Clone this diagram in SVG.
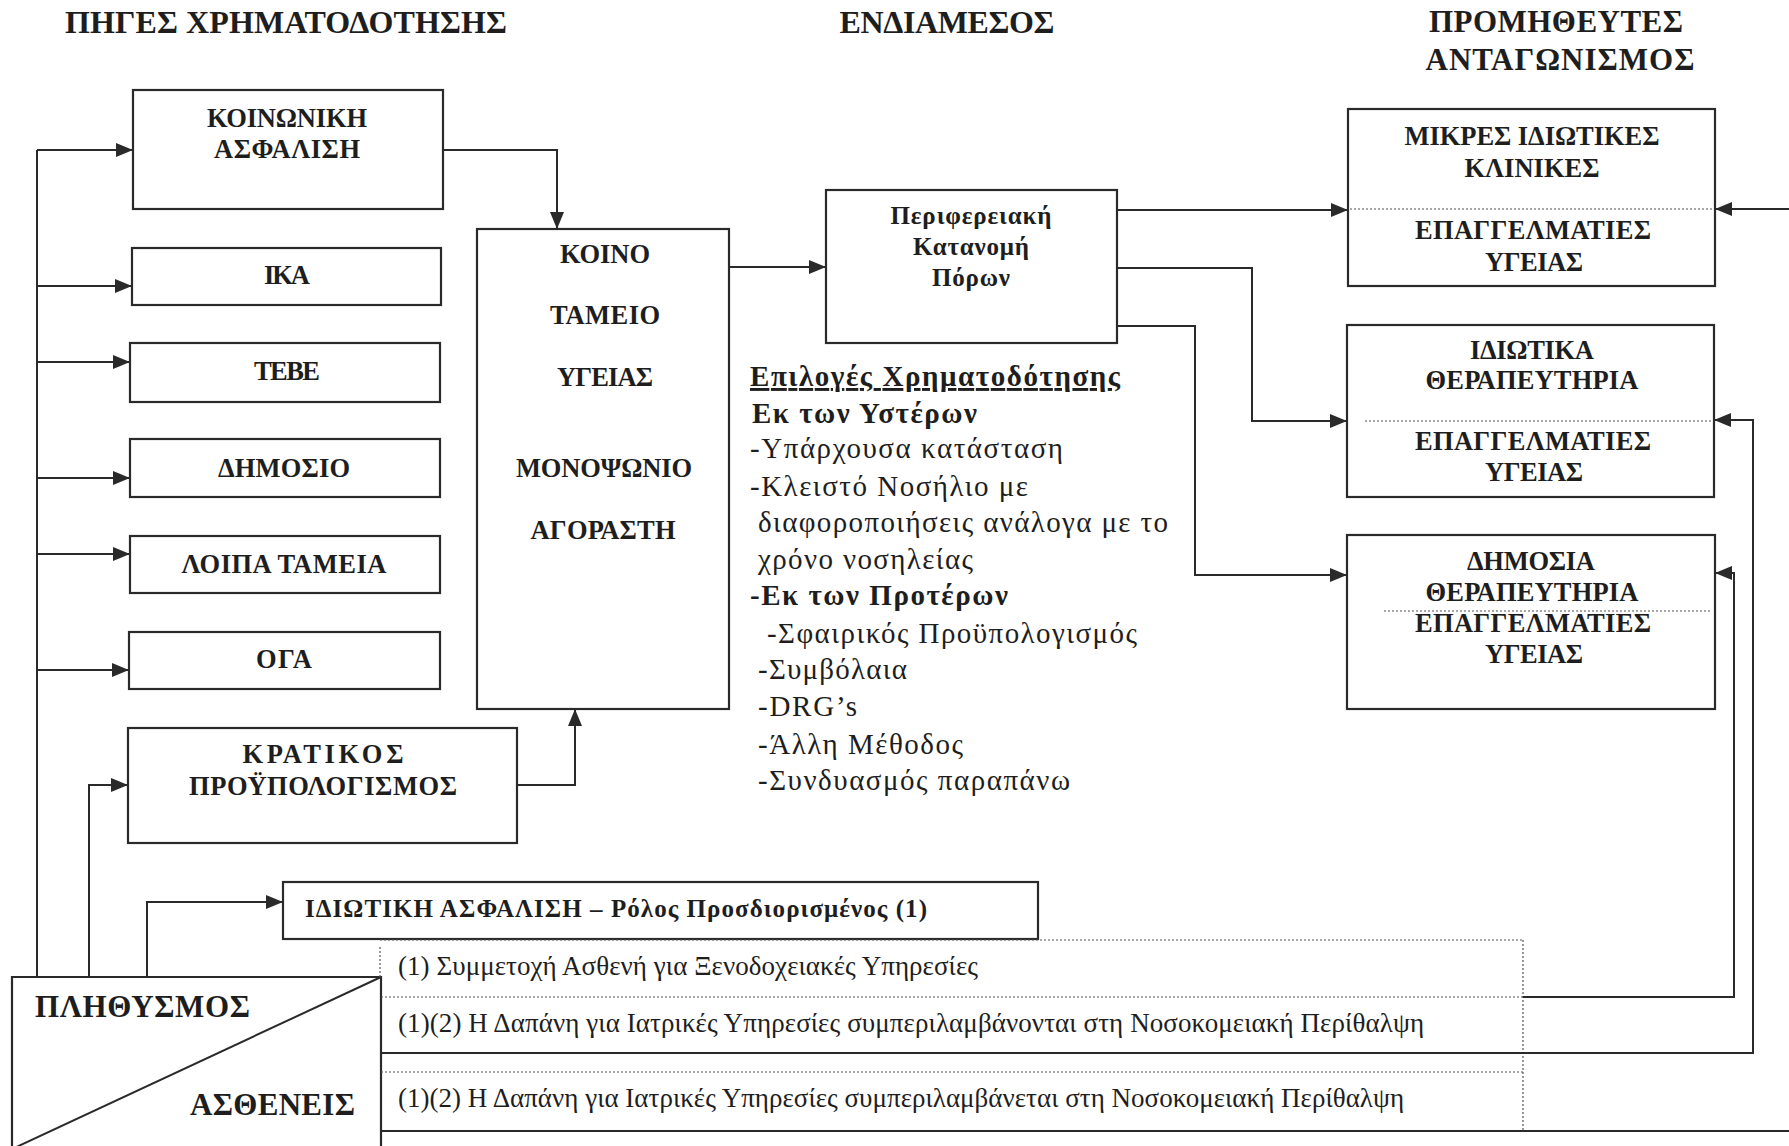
<svg xmlns="http://www.w3.org/2000/svg" width="1789" height="1146" viewBox="0 0 1789 1146">
<defs>
<marker id="arr" markerUnits="userSpaceOnUse" markerWidth="18" markerHeight="14" refX="17" refY="7" orient="auto">
<path d="M0,0 L17,7 L0,14 z" fill="#2a2a2a"/>
</marker>
<style>
.box{fill:none;stroke:#2a2a2a;stroke-width:2.2}
.ln{fill:none;stroke:#2a2a2a;stroke-width:2}
.dot{fill:none;stroke:#555;stroke-width:1.2;stroke-dasharray:2 2}
.t{font-family:"Liberation Serif","DejaVu Serif",serif;fill:#1e1e1e}
.b{font-weight:bold}
.bx{font-size:26.5px;font-weight:bold;text-anchor:middle}
.ttl{font-size:32px;font-weight:bold;text-anchor:middle}
.opt{font-size:29px}
.row{font-size:27px}
</style>
</defs>
<rect width="1789" height="1146" fill="#ffffff"/>

<!-- titles -->
<g id="titles">
<text class="t ttl" x="286" y="33" textLength="442">ΠΗΓΕΣ ΧΡΗΜΑΤΟΔΟΤΗΣΗΣ</text>
<text class="t ttl" x="947" y="33" textLength="215">ΕΝΔΙΑΜΕΣΟΣ</text>
<text class="t ttl" x="1556" y="32" style="font-size:31px" textLength="254">ΠΡΟΜΗΘΕΥΤΕΣ</text>
<text class="t ttl" x="1560" y="70" style="font-size:31px" textLength="269">ΑΝΤΑΓΩΝΙΣΜΟΣ</text>
</g>

<!-- source boxes -->
<g id="koinoniki">
<rect class="box" x="133" y="90" width="310" height="119"/>
<text class="t bx" x="287" y="127" textLength="160">ΚΟΙΝΩΝΙΚΗ</text>
<text class="t bx" x="287" y="158" textLength="146">ΑΣΦΑΛΙΣΗ</text>
</g>
<g id="ika">
<rect class="box" x="132" y="248" width="309" height="57"/>
<text class="t bx" x="287" y="284" textLength="46">ΙΚΑ</text>
</g>
<g id="tebe">
<rect class="box" x="130" y="343" width="310" height="59"/>
<text class="t bx" x="287" y="380" textLength="66">ΤΕΒΕ</text>
</g>
<g id="dimosio">
<rect class="box" x="130" y="439" width="310" height="58"/>
<text class="t bx" x="284" y="477" textLength="132">ΔΗΜΟΣΙΟ</text>
</g>
<g id="loipa">
<rect class="box" x="130" y="536" width="310" height="57"/>
<text class="t bx" x="284" y="573" textLength="205">ΛΟΙΠΑ ΤΑΜΕΙΑ</text>
</g>
<g id="oga">
<rect class="box" x="129" y="632" width="311" height="57"/>
<text class="t bx" x="284" y="668" textLength="56">ΟΓΑ</text>
</g>
<g id="kratikos">
<rect class="box" x="128" y="728" width="389" height="115"/>
<text class="t bx" x="323" y="763" textLength="161">ΚΡΑΤΙΚΟΣ</text>
<text class="t bx" x="323" y="795" textLength="268">ΠΡΟΫΠΟΛΟΓΙΣΜΟΣ</text>
</g>

<!-- common fund -->
<g id="koino-tameio">
<rect class="box" x="477" y="229" width="252" height="480"/>
<text class="t bx" x="605" y="263" textLength="90">ΚΟΙΝΟ</text>
<text class="t bx" x="605" y="324" textLength="110">ΤΑΜΕΙΟ</text>
<text class="t bx" x="605" y="386" textLength="96">ΥΓΕΙΑΣ</text>
<text class="t bx" x="604" y="477" textLength="176">ΜΟΝΟΨΩΝΙΟ</text>
<text class="t bx" x="603" y="539" textLength="145">ΑΓΟΡΑΣΤΗ</text>
</g>

<!-- regional allocation -->
<g id="perifereiaki">
<rect class="box" x="826" y="190" width="291" height="153"/>
<text class="t bx" x="971" y="224" style="font-size:25px" textLength="161">Περιφερειακή</text>
<text class="t bx" x="971" y="255" style="font-size:25px" textLength="116">Κατανομή</text>
<text class="t bx" x="971" y="286" style="font-size:25px" textLength="78">Πόρων</text>
</g>

<!-- funding options text -->
<g id="epiloges">
<text class="t opt b" x="750" y="386" textLength="370" text-decoration="underline">Επιλογές Χρηματοδότησης</text>
<text class="t opt b" x="752" y="423" textLength="225">Εκ των Υστέρων</text>
<text class="t opt" x="750" y="458" textLength="313">-Υπάρχουσα κατάσταση</text>
<text class="t opt" x="750" y="496" textLength="278">-Κλειστό Νοσήλιο με</text>
<text class="t opt" x="758" y="532" textLength="410">διαφοροποιήσεις ανάλογα με το</text>
<text class="t opt" x="758" y="569" textLength="215">χρόνο νοσηλείας</text>
<text class="t opt b" x="750" y="605" textLength="258">-Εκ των Προτέρων</text>
<text class="t opt" x="767" y="643" textLength="370">-Σφαιρικός Προϋπολογισμός</text>
<text class="t opt" x="758" y="679" textLength="149">-Συμβόλαια</text>
<text class="t opt" x="758" y="716" textLength="99">-DRG’s</text>
<text class="t opt" x="758" y="754" textLength="205">-Άλλη Μέθοδος</text>
<text class="t opt" x="758" y="790" textLength="312">-Συνδυασμός παραπάνω</text>
</g>

<!-- providers -->
<g id="mikres-kliniki">
<rect class="box" x="1348" y="109" width="367" height="177"/>
<line class="dot" x1="1350" y1="209" x2="1713" y2="209"/>
<text class="t bx" x="1532" y="145" textLength="255">ΜΙΚΡΕΣ ΙΔΙΩΤΙΚΕΣ</text>
<text class="t bx" x="1532" y="177" textLength="135">ΚΛΙΝΙΚΕΣ</text>
<text class="t bx" x="1533" y="239" textLength="236">ΕΠΑΓΓΕΛΜΑΤΙΕΣ</text>
<text class="t bx" x="1534" y="271" textLength="98">ΥΓΕΙΑΣ</text>
</g>
<g id="idiotika">
<rect class="box" x="1347" y="325" width="367" height="172"/>
<line class="dot" x1="1365" y1="421" x2="1712" y2="421"/>
<text class="t bx" x="1532" y="359" textLength="124">ΙΔΙΩΤΙΚΑ</text>
<text class="t bx" x="1532" y="389" textLength="213">ΘΕΡΑΠΕΥΤΗΡΙΑ</text>
<text class="t bx" x="1533" y="450" textLength="236">ΕΠΑΓΓΕΛΜΑΤΙΕΣ</text>
<text class="t bx" x="1534" y="481" textLength="98">ΥΓΕΙΑΣ</text>
</g>
<g id="dimosia">
<rect class="box" x="1347" y="535" width="368" height="174"/>
<line class="dot" x1="1384" y1="611" x2="1711" y2="611"/>
<text class="t bx" x="1531" y="570" textLength="128">ΔΗΜΟΣΙΑ</text>
<text class="t bx" x="1532" y="601" textLength="213">ΘΕΡΑΠΕΥΤΗΡΙΑ</text>
<text class="t bx" x="1533" y="632" textLength="236">ΕΠΑΓΓΕΛΜΑΤΙΕΣ</text>
<text class="t bx" x="1534" y="663" textLength="98">ΥΓΕΙΑΣ</text>
</g>

<!-- private insurance -->
<g id="idiotiki-asfalisi">
<rect class="box" x="283" y="882" width="755" height="57"/>
<text class="t b" x="305" y="917" style="font-size:25px" textLength="622">ΙΔΙΩΤΙΚΗ ΑΣΦΑΛΙΣΗ – Ρόλος Προσδιορισμένος (1)</text>
</g>

<!-- population / patients -->
<g id="plithysmos">
<path class="box" d="M12,1150 V977 H381 V1150"/>
<line class="ln" x1="381" y1="977" x2="10" y2="1150"/>
<text class="t b" x="35" y="1017" style="font-size:31px" textLength="215">ΠΛΗΘΥΣΜΟΣ</text>
<text class="t b" x="190" y="1115" style="font-size:31px" textLength="165">ΑΣΘΕΝΕΙΣ</text>
</g>

<!-- notes table -->
<g id="notes">
<line class="dot" x1="380" y1="947" x2="380" y2="977"/>
<line class="dot" x1="380" y1="940" x2="1523" y2="940"/>
<line class="dot" x1="1523" y1="940" x2="1523" y2="1131"/>
<line class="dot" x1="381" y1="997" x2="1523" y2="997"/>
<line class="ln" x1="381" y1="1053" x2="1523" y2="1053"/>
<line class="dot" x1="381" y1="1072" x2="1523" y2="1072"/>
<text class="t row" x="398" y="975" textLength="580">(1) Συμμετοχή Ασθενή για Ξενοδοχειακές Υπηρεσίες</text>
<text class="t row" x="398" y="1032" textLength="1026">(1)(2) Η Δαπάνη για Ιατρικές Υπηρεσίες συμπεριλαμβάνονται στη Νοσοκομειακή  Περίθαλψη</text>
<text class="t row" x="398" y="1107" textLength="1006">(1)(2) Η Δαπάνη για Ιατρικές Υπηρεσίες συμπεριλαμβάνεται στη Νοσοκομειακή Περίθαλψη</text>
</g>

<!-- connectors -->
<g id="connectors">
<path class="ln" d="M37,977 V150"/>
<path class="ln" marker-end="url(#arr)" d="M37,150 H133"/>
<path class="ln" marker-end="url(#arr)" d="M37,286 H132"/>
<path class="ln" marker-end="url(#arr)" d="M37,362 H130"/>
<path class="ln" marker-end="url(#arr)" d="M37,478 H130"/>
<path class="ln" marker-end="url(#arr)" d="M37,554 H130"/>
<path class="ln" marker-end="url(#arr)" d="M37,670 H129"/>
<path class="ln" marker-end="url(#arr)" d="M89,977 V785 H128"/>
<path class="ln" marker-end="url(#arr)" d="M147,977 V902 H283"/>
<path class="ln" marker-end="url(#arr)" d="M443,150 H557 V229"/>
<path class="ln" marker-end="url(#arr)" d="M517,785 H575 V709"/>
<path class="ln" marker-end="url(#arr)" d="M729,267 H826"/>
<path class="ln" marker-end="url(#arr)" d="M1117,210 H1348"/>
<path class="ln" marker-end="url(#arr)" d="M1117,268 H1252 V421 H1347"/>
<path class="ln" marker-end="url(#arr)" d="M1117,326 H1195 V575 H1347"/>
<path class="ln" marker-end="url(#arr)" d="M1789,209 H1715"/>
<path class="ln" marker-end="url(#arr)" d="M1523,1053 H1753 V420 H1714"/>
<path class="ln" marker-end="url(#arr)" d="M1523,997 H1734 V573 H1715"/>
<path class="ln" d="M381,1131 H1789"/>
</g>
</svg>
